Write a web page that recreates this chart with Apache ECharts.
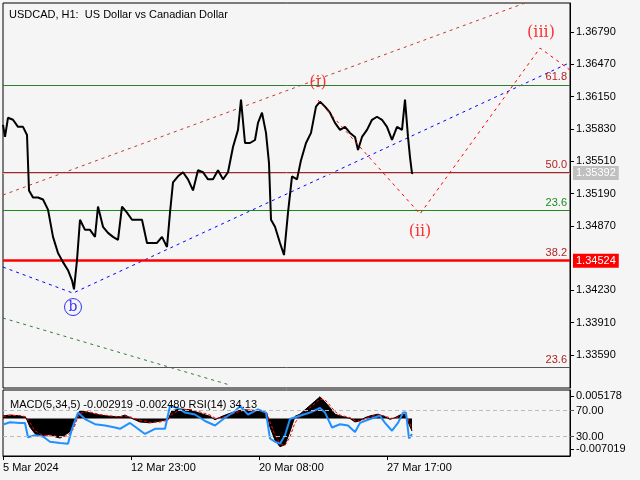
<!DOCTYPE html>
<html><head><meta charset="utf-8">
<script src="https://cdn.jsdelivr.net/npm/echarts@6/dist/echarts.min.js"></script>
<style>html,body{margin:0;padding:0;background:#f5f5f5}#c{width:640px;height:480px}</style>
</head><body><div id="c"></div>
<script>
// price (close) series: bar index, price
const priceBars = [0,2,5,10,15,20,24,26,30,35,40,45,50,55,60,65,69,71,74,77,82,87,92,95,100,105,110,115,119,124,129,134,139,144,149,154,159,164,167,170,175,180,185,190,195,200,205,210,215,220,225,230,235,238,242,247,252,255,259,263,266,268,272,277,281,285,289,294,298,303,308,313,317,322,327,332,337,342,347,352,355,359,364,369,374,379,384,389,394,399,402,405,407,409,410];
const priceVals = [1.3587,1.3575,1.3594,1.3592,1.3585,1.3585,1.3577,1.3522,1.3515,1.3515,1.3513,1.3503,1.3476,1.3460,1.3451,1.3443,1.3433,1.3424,1.3453,1.3493,1.3483,1.3483,1.3476,1.3506,1.3486,1.3480,1.3476,1.3473,1.3506,1.3500,1.3493,1.3493,1.3493,1.3470,1.3470,1.3470,1.3476,1.3466,1.3500,1.3530,1.3536,1.3540,1.3533,1.3522,1.3542,1.3540,1.3533,1.3533,1.3542,1.3533,1.3540,1.3565,1.3582,1.3612,1.3569,1.3569,1.3572,1.3589,1.3599,1.3579,1.3549,1.3493,1.3486,1.3470,1.3458,1.3500,1.3536,1.3533,1.3552,1.3569,1.3579,1.3605,1.3610,1.3605,1.3599,1.3589,1.3582,1.3585,1.3579,1.3575,1.3562,1.3575,1.3582,1.3592,1.3595,1.3592,1.3585,1.3572,1.3585,1.3582,1.3612,1.3575,1.3555,1.3539,1.35392];
const priceTicks = [1.36790,1.36470,1.36150,1.35830,1.35510,1.35190,1.34870,1.34230,1.33910,1.33590];
const dateTicks = [0,128,256,384];
const dateLabels = ['5 Mar 2024','12 Mar 23:00','20 Mar 08:00','27 Mar 17:00'];
// fib levels
const fibPrices = [1.36265,1.35403,1.35026,1.34524,1.33470];
const fibNames = ['61.8','50.0','23.6','38.2','23.6'];
const fibColors = ['#2e7d32','#b22222','#1b8a1b','#ff0000','#555555'];
const fibLabelColors = ['#b22222','#b22222','#1b8a1b','#b22222','#b22222'];
const lastPrice = 1.35392;
const supportPrice = 1.34524;
// trend lines
const upperChannel = [[0,1.35175],[522,1.37077]];
const blueChannel = [[0,1.34461],[70,1.34203],[567,1.36487]];
const greenChannel = [[0,1.33956],[227,1.33292]];
const wavePath = [[315,1.36116],[417,1.34987],[537,1.36631],[567,1.36413]];
const waveLabels = [['(i)',315,1.36285],['(ii)',417,1.34808],['(iii)',538,1.36780]];
const bPoint = [70,1.34065];
// MACD histogram
const macdBars = [0,7,17,23,27,32,39,47,52,57,62,67,71,74,77,85,92,97,107,117,122,127,137,147,157,165,169,177,187,197,207,212,219,227,235,242,252,259,264,267,272,277,282,287,292,297,302,307,312,317,322,327,332,337,347,352,357,362,367,375,382,387,392,397,402,405,409];
const macdVals = [0.0006,0.0008,0.0006,0.0002,-0.002,-0.0035,-0.0042,-0.0036,-0.0042,-0.0045,-0.0038,-0.003,-0.0015,0.0008,0.0018,0.0014,0.0010,0.0008,0.0005,0.0004,0.0008,0.0002,-0.0008,-0.0010,-0.0006,-0.0002,0.0018,0.0022,0.0020,0.0012,0.0005,-0.0003,0.0005,0.0012,0.0018,0.0020,0.0018,0.0016,0.0010,-0.0020,-0.0050,-0.0065,-0.0060,-0.0030,0.0005,0.0010,0.0020,0.0030,0.0040,0.0050,0.0038,0.0025,0.0010,0.0006,0.0000,-0.0008,-0.0005,0.0002,0.0006,0.0010,0.0004,-0.0002,0.0002,0.0008,0.0010,-0.0008,-0.0029];
const signalVals = [0.0005,0.0007,0.0007,0.0004,-0.001,-0.0028,-0.0038,-0.0040,-0.0040,-0.0043,-0.0041,-0.0034,-0.0022,-0.0002,0.0012,0.0016,0.0012,0.0009,0.0006,0.0004,0.0006,0.0004,-0.0004,-0.0009,-0.0008,-0.0004,0.0010,0.0020,0.0021,0.0015,0.0008,0.0001,0.0002,0.0009,0.0015,0.0019,0.0019,0.0017,0.0013,-0.0008,-0.0038,-0.0058,-0.0062,-0.0042,-0.0010,0.0006,0.0015,0.0025,0.0035,0.0045,0.0043,0.0030,0.0016,0.0008,0.0002,-0.0005,-0.0006,-0.0001,0.0004,0.0008,0.0006,0.0001,0.0000,0.0005,0.0009,0.0000,-0.0025];
// RSI
const rsiBars = [1,7,17,22,25,32,40,47,57,65,69,75,82,92,102,112,117,127,142,152,162,167,175,182,192,202,212,222,232,237,245,255,263,267,272,277,282,287,297,307,317,322,329,337,345,352,357,367,377,382,389,395,400,403,406,409];
const rsiVals = [49,52,51,51,29,32,30,22,20,19,42,67,57,49,47,44,42,51,34,42,42,77,74,67,64,54,47,59,69,77,64,72,67,27,22,19,32,57,62,67,74,67,44,49,47,37,51,57,62,51,39,51,67,67,27,34];

const zip=(a,b)=>a.map((x,i)=>[x,b[i]]);
const fmt5=v=>v.toFixed(5);
const XMAX=567;

const chart = echarts.init(document.getElementById('c'));
const FF='Liberation Sans, DejaVu Sans, sans-serif';
const txt = {fontFamily:FF,fontSize:11,color:'#000'};

const hLines = fibPrices.map((p,i)=>[
  {coord:[0,p],lineStyle:{color:fibColors[i],width:i===3?2.5:1,type:'solid'},
   label:{show:true,position:'insideEndTop',formatter:fibNames[i],color:fibLabelColors[i],fontSize:11,fontFamily:FF,distance:[3,2]}},
  {coord:[XMAX,p]}
]);
hLines.push([
  {coord:[0,lastPrice],lineStyle:{color:'#c8c8c8',width:1,type:'solid'},
   label:{show:true,position:'end',formatter:'1.35392',color:'#fff',backgroundColor:'#c0c0c0',padding:[2,3,1,3],fontSize:11,fontFamily:FF,distance:3}},
  {coord:[XMAX,lastPrice]}
]);
hLines.push([
  {coord:[0,supportPrice],lineStyle:{color:'rgba(0,0,0,0)',width:1},
   label:{show:true,position:'end',formatter:'1.34524',color:'#fff',backgroundColor:'#ff0000',padding:[2,3,1,3],fontSize:11,fontFamily:FF,distance:3}},
  {coord:[XMAX,supportPrice]}
]);

chart.setOption({
  backgroundColor:'#f5f5f5',
  animation:false,
  title:[{text:'USDCAD, H1:  US Dollar vs Canadian Dollar',left:4,top:4,textStyle:Object.assign({},txt,{fontWeight:'normal'})},
         {text:'MACD(5,34,5) -0.002919 -0.002480 RSI(14) 34.13',left:5,top:394,textStyle:Object.assign({},txt,{fontWeight:'normal'})}],
  grid:[{left:3,right:70,top:3,height:385,show:true,borderColor:'#000',borderWidth:1},
        {left:3,right:70,top:390,height:66,show:true,borderColor:'#000',borderWidth:1}],
  xAxis:[
    {gridIndex:0,type:'value',min:0,max:XMAX,show:false},
    {gridIndex:1,type:'value',min:0,max:XMAX,interval:128,
     axisLine:{onZero:false,lineStyle:{color:'#000'}},splitLine:{show:false},
     axisTick:{show:true,length:4,customValues:dateTicks,lineStyle:{color:'#000'}},
     axisLabel:Object.assign({},txt,{align:'left',margin:6,customValues:dateTicks,formatter:v=>{const i=dateTicks.indexOf(v);return i>=0?dateLabels[i]:'';}})}
  ],
  yAxis:[
    {gridIndex:0,type:'value',position:'right',min:1.33263,max:1.37077,
     axisLine:{show:true,onZero:false,lineStyle:{color:'#000'}},splitLine:{show:false},
     axisTick:{show:true,length:4,customValues:priceTicks,lineStyle:{color:'#000'}},
     axisLabel:Object.assign({},txt,{customValues:priceTicks,formatter:fmt5,margin:6})},
    {gridIndex:1,type:'value',position:'right',min:-0.00863,max:0.00656,
     axisLine:{show:true,onZero:false,lineStyle:{color:'#000'}},splitLine:{show:false},
     axisTick:{show:true,length:4,customValues:[0.005178,-0.007019]},
     axisLabel:Object.assign({},txt,{customValues:[0.005178,-0.007019],formatter:v=>v.toFixed(6),margin:6})},
    {gridIndex:1,type:'value',position:'right',min:0,max:101.8,
     axisLine:{show:false,onZero:false},splitLine:{show:false},
     axisTick:{show:true,length:4,customValues:[30,70]},
     axisLabel:Object.assign({},txt,{customValues:[30,70],formatter:v=>v.toFixed(2),margin:6})}
  ],
  series:[
    {type:'line',xAxisIndex:0,yAxisIndex:0,data:zip(priceBars,priceVals),symbol:'none',lineStyle:{color:'#000',width:2},z:5,
     markLine:{silent:true,symbol:'none',data:hLines}},
    {type:'line',data:upperChannel,symbol:'none',lineStyle:{color:'#c0392b',width:1,type:[3,4]}},
    {type:'line',data:blueChannel,symbol:'none',lineStyle:{color:'#0000ff',width:1,type:[3,4]}},
    {type:'line',data:greenChannel,symbol:'none',lineStyle:{color:'#2e7d32',width:1,type:[3,4]}},
    {type:'line',data:wavePath,symbol:'none',lineStyle:{color:'#ff0000',width:1,type:[3,4]},z:6},
    {type:'scatter',data:waveLabels.map(w=>({value:[w[1],w[2]],name:w[0]})),symbolSize:0,
     label:{show:true,formatter:p=>p.name,color:'#ff0000',fontSize:16,fontFamily:'DejaVu Serif, serif'}},
    {type:'scatter',data:[bPoint],symbol:'circle',symbolSize:17,itemStyle:{color:'#f5f5f5',borderColor:'#0000ff',borderWidth:1},
     label:{show:true,position:'inside',formatter:'b',color:'#0000ff',fontSize:14,fontFamily:'DejaVu Serif, serif'}},
    {type:'line',xAxisIndex:1,yAxisIndex:1,data:zip(macdBars,macdVals),symbol:'none',lineStyle:{color:'#000',width:1},areaStyle:{color:'#000',opacity:1}},
    {type:'line',xAxisIndex:1,yAxisIndex:1,data:zip(macdBars,signalVals),symbol:'none',lineStyle:{color:'#ff0000',width:1,type:[3,2]}},
    {type:'line',xAxisIndex:1,yAxisIndex:2,data:zip(rsiBars,rsiVals),symbol:'none',lineStyle:{color:'#1e90ff',width:2},
     markLine:{silent:true,symbol:'none',data:[{yAxis:30},{yAxis:70}],lineStyle:{color:'#bbb',type:[4,3],width:1},label:{show:false}}}
  ]
});
</script></body></html>
